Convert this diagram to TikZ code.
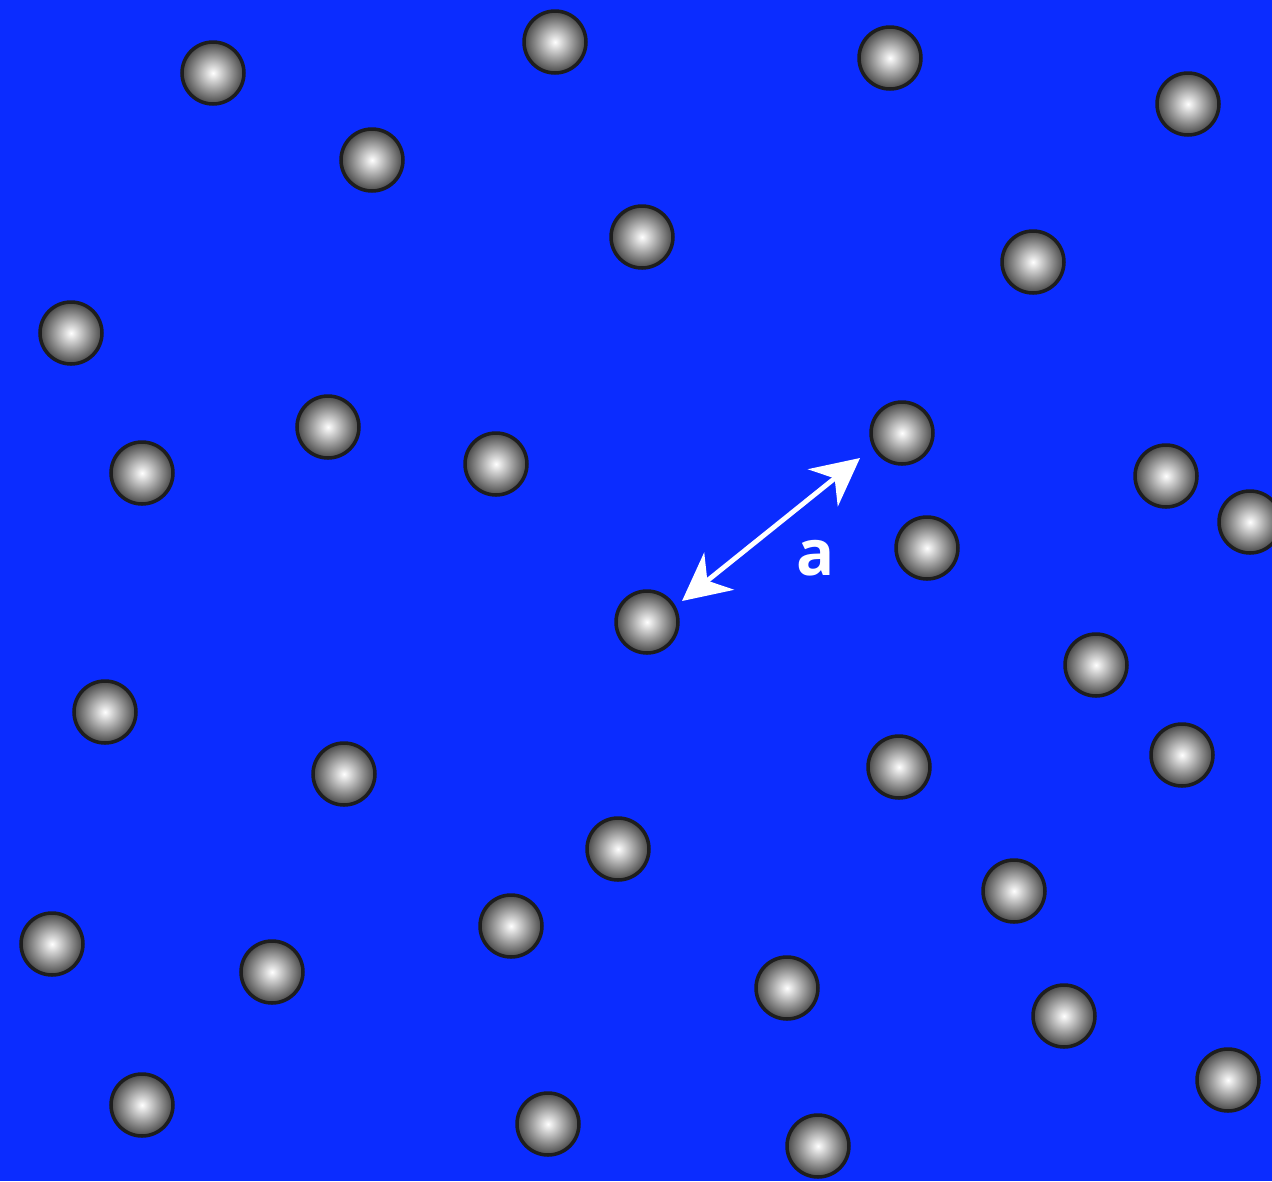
\documentclass[tikz,border=0pt]{standalone}
\usepackage{fontspec}
\setsansfont{Open Sans}
\usepackage{tikz}
\usetikzlibrary{arrows.meta,positioning}
\usepackage{xcolor}
\definecolor{latticeblue}{HTML}{0B2CFF}
\definecolor{atomrim}{HTML}{1E1E1E}
\tikzset{
  atom/.style={
    circle,
    draw=atomrim,
    line width=2pt,
    inner color=white,
    outer color=black!72,
    minimum size=1.24cm,
    inner sep=0pt,
    outer sep=0pt
  },
  spacing/.style={
    {Stealth[length=9.5mm,width=9.5mm,inset=3mm]}-{Stealth[length=9.5mm,width=9.5mm,inset=3mm]},
    line width=2.8pt,
    draw=white
  }
}
\begin{document}
\begin{tikzpicture}[x=0.02cm,y=-0.02cm]
\fill[latticeblue] (0,0) rectangle (1272,1181);
\useasboundingbox (0,0) rectangle (1272,1181);
\node[atom] (s1) at (213,73) {};
\node[atom] (s2) at (555,42) {};
\node[atom] (s3) at (890,58) {};
\node[atom] (s4) at (1188,104) {};
\node[atom] (s5) at (372,160) {};
\node[atom] (s6) at (642,237) {};
\node[atom] (s7) at (1033,262) {};
\node[atom] (s8) at (71,333) {};
\node[atom] (s9) at (328,427) {};
\node[atom] (s10) at (142,473) {};
\node[atom] (s11) at (496,464) {};
\node[atom] (s12) at (902,433) {};
\node[atom] (s13) at (1166,476) {};
\node[atom] (s14) at (1250,522) {};
\node[atom] (s15) at (927,548) {};
\node[atom] (s16) at (647,622) {};
\node[atom] (s17) at (1096,665) {};
\node[atom] (s18) at (105,712) {};
\node[atom] (s19) at (344,774) {};
\node[atom] (s20) at (899,767) {};
\node[atom] (s21) at (1182,755) {};
\node[atom] (s22) at (618,849) {};
\node[atom] (s23) at (1014,891) {};
\node[atom] (s24) at (52,944) {};
\node[atom] (s25) at (272,972) {};
\node[atom] (s26) at (511,926) {};
\node[atom] (s27) at (787,988) {};
\node[atom] (s28) at (1064,1016) {};
\node[atom] (s29) at (1228,1080) {};
\node[atom] (s30) at (142,1105) {};
\node[atom] (s31) at (548,1124) {};
\node[atom] (s32) at (818,1146) {};
\coordinate (near) at (682,601);
\coordinate (far) at (860,458);
\draw[spacing] (near) -- (far);
\node[text=white, font=\sffamily\bfseries\fontsize{36}{36}\selectfont] (alabel) at (816,558) {a};
\end{tikzpicture}
\end{document}
